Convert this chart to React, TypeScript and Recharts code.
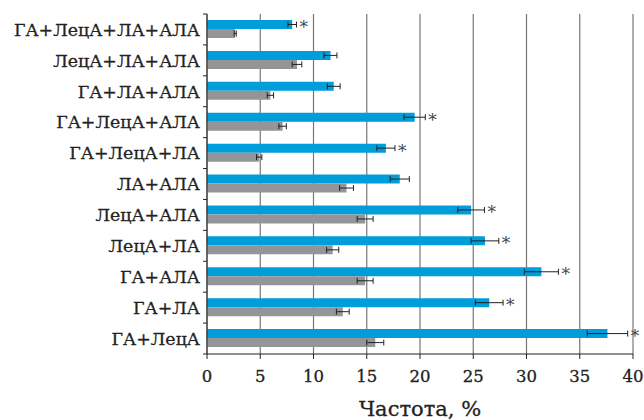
import React from 'react';
import { BarChart, Bar, XAxis, YAxis, CartesianGrid, ErrorBar, LabelList } from 'recharts';

const categories = ['ГА+ЛецА+ЛА+АЛА', 'ЛецА+ЛА+АЛА', 'ГА+ЛА+АЛА', 'ГА+ЛецА+АЛА', 'ГА+ЛецА+ЛА', 'ЛА+АЛА', 'ЛецА+АЛА', 'ЛецА+ЛА', 'ГА+АЛА', 'ГА+ЛА', 'ГА+ЛецА'];
const blueValues = [8.0, 11.6, 11.9, 19.5, 16.8, 18.1, 24.8, 26.1, 31.4, 26.5, 37.6];
const blueErrors = [0.4, 0.6, 0.6, 1.0, 0.85, 0.9, 1.25, 1.3, 1.6, 1.3, 1.9];
const grayValues = [2.65, 8.45, 5.95, 7.1, 4.9, 13.1, 14.85, 11.8, 14.85, 12.75, 15.8];
const grayErrors = [0.1, 0.45, 0.3, 0.35, 0.25, 0.65, 0.75, 0.57, 0.75, 0.6, 0.8];
const significant = [true, false, false, true, true, false, true, true, true, true, true];
const xTicks = [0, 5, 10, 15, 20, 25, 30, 35, 40];
const xLabel = 'Частота, %';

const data = categories.map((name, i) => ({
  name,
  blue: blueValues[i],
  blueErr: blueErrors[i],
  gray: grayValues[i],
  grayErr: grayErrors[i],
  sig: significant[i],
}));

const FONT = 'DejaVu Serif';

const YTick = (props: any) => {
  const { x, y, payload, index } = props;
  const off = payload.offset || 0;
  const ax = x;
  return (
    <g>
      <line x1={ax - 4} x2={ax} y1={y - off} y2={y - off} stroke="#222" strokeWidth={1} />
      {index === categories.length - 1 && (
        <line x1={ax - 4} x2={ax} y1={y + off} y2={y + off} stroke="#222" strokeWidth={1} />
      )}
      <text x={x - 7} y={y} dy="0.36em" textAnchor="end" fontFamily={FONT} fontSize={17.4} fill="#222" stroke="#222" strokeWidth={0.3}>
        {payload.value}
      </text>
    </g>
  );
};

const XTick = (props: any) => {
  const { x, y, payload } = props;
  return (
    <text x={x} y={y} dy="0.71em" textAnchor="middle" fontFamily={FONT} fontSize={16.5} fill="#222" stroke="#222" strokeWidth={0.3}>
      {payload.value}
    </text>
  );
};

const Star = (props: any) => {
  const { x, y, width, height, index } = props;
  const d = data[index];
  if (!d || !d.sig) return null;
  const end = x + width * (1 + d.blueErr / d.blue);
  return (
    <text x={end + 3} y={y + height / 2} dy="0.5em" fontFamily={FONT} fontSize={17} fill="#444">
      *
    </text>
  );
};

export default function App() {
  return (
    <div style={{ position: 'absolute', left: 0, top: 0, background: '#fff' }}>
      <BarChart
        width={644}
        height={420}
        data={data}
        layout="vertical"
        margin={{ top: 14, right: 11, bottom: 0, left: 0 }}
        barCategoryGap={6}
        barGap={0}
      >
        <CartesianGrid horizontal={false} vertical={true} stroke="#777" strokeWidth={1.2} />
        <XAxis
          type="number"
          domain={[0, 40]}
          ticks={xTicks}
          interval={0}
          axisLine={{ stroke: '#222' }}
          tickLine={{ stroke: '#222' }}
          tickSize={5}
          tick={<XTick />}
          tickMargin={11}
          label={{ value: xLabel, position: 'insideBottom', offset: 4, fontFamily: FONT, fontSize: 21, fill: '#222', stroke: '#222', strokeWidth: 0.3 }}
          height={66}
        />
        <YAxis
          type="category"
          dataKey="name"
          width={207}
          axisLine={{ stroke: '#222' }}
          tickLine={false}
          tick={<YTick />}
          tickMargin={0}
          tickSize={0}
          interval={0}
        />
        <Bar dataKey="blue" fill="#009ddb" barSize={9} isAnimationActive={false}>
          <ErrorBar dataKey="blueErr" direction="x" width={3} stroke="#222" strokeWidth={1} />
          <LabelList dataKey="blue" content={<Star />} />
        </Bar>
        <Bar dataKey="gray" fill="#939598" barSize={9} isAnimationActive={false}>
          <ErrorBar dataKey="grayErr" direction="x" width={3} stroke="#222" strokeWidth={1} />
        </Bar>
      </BarChart>
    </div>
  );
}
